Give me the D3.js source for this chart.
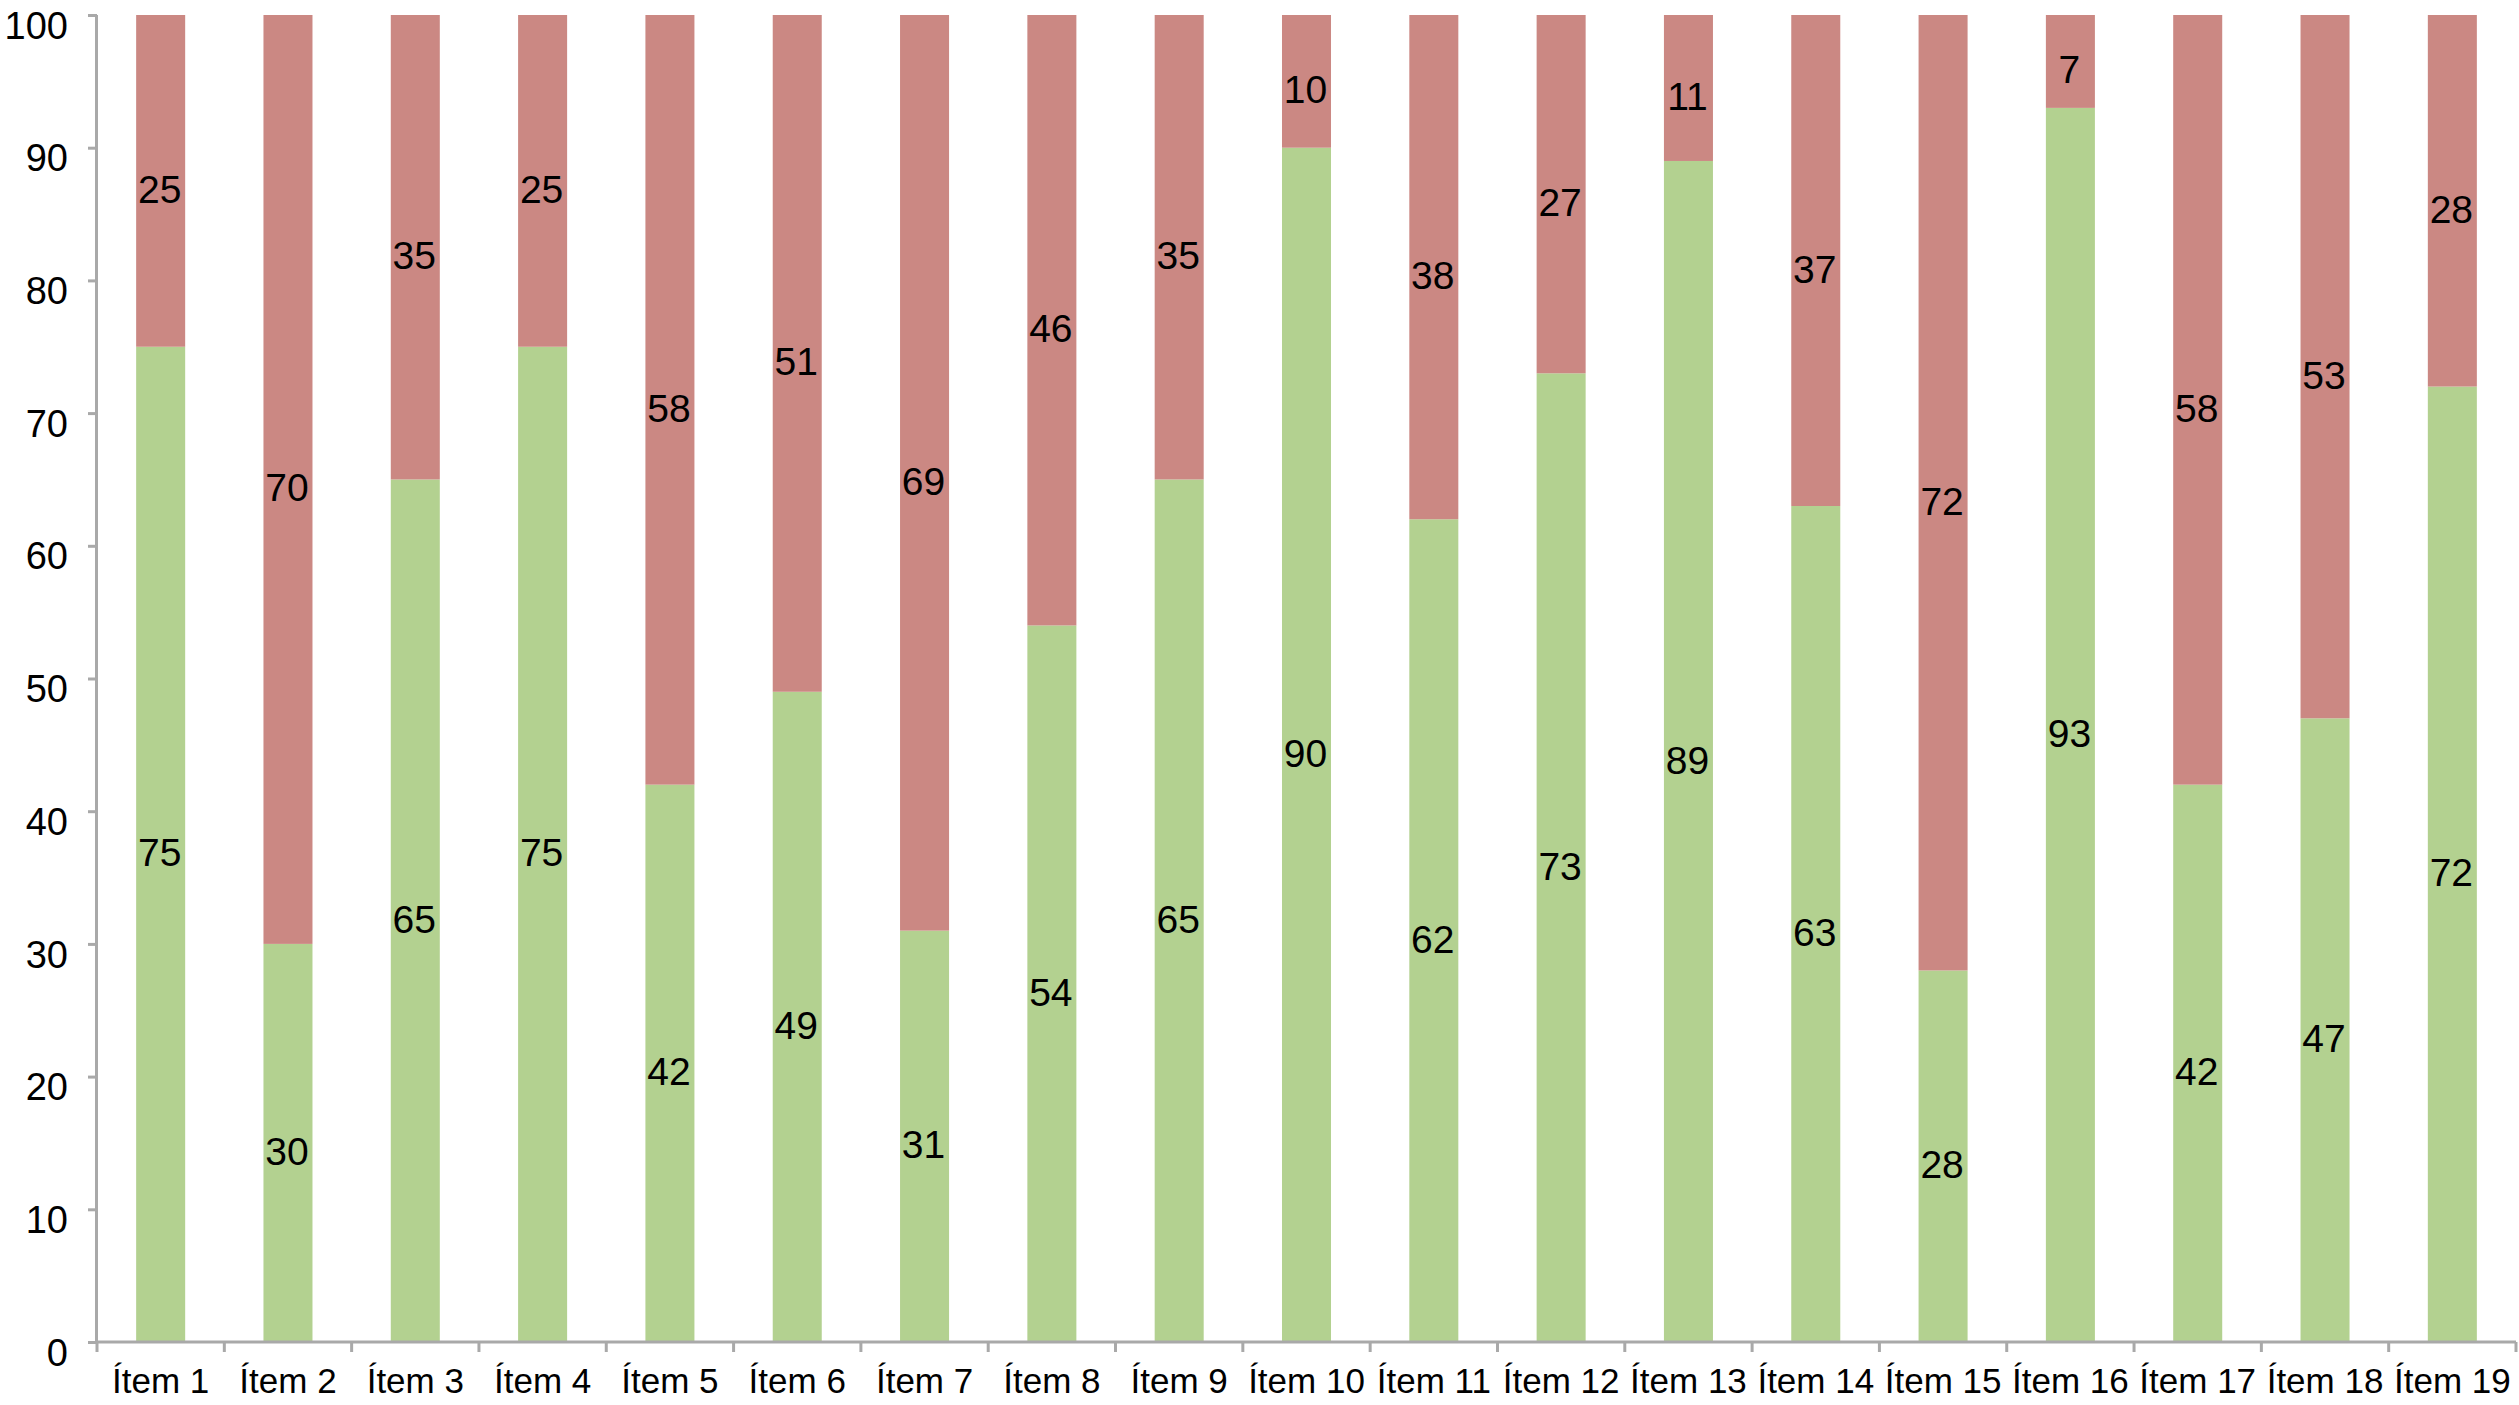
<!DOCTYPE html>
<html>
<head>
<meta charset="utf-8">
<script src="https://cdn.jsdelivr.net/npm/d3@7"></script>
<style>
  html, body { margin: 0; padding: 0; background: #fff; }
  svg { display: block; }
  text { font-family: "Liberation Sans", Arial, Helvetica, sans-serif; fill: #000; }
</style>
</head>
<body>
<svg id="chart"></svg>
<script>
const categories = ["Ítem 1","Ítem 2","Ítem 3","Ítem 4","Ítem 5","Ítem 6","Ítem 7","Ítem 8","Ítem 9","Ítem 10","Ítem 11","Ítem 12","Ítem 13","Ítem 14","Ítem 15","Ítem 16","Ítem 17","Ítem 18","Ítem 19"];
const greenValues = [75,30,65,75,42,49,31,54,65,90,62,73,89,63,28,93,42,47,72];
const redValues   = [25,70,35,25,58,51,69,46,35,10,38,27,11,37,72,7,58,53,28];
const yTicks = [0,10,20,30,40,50,60,70,80,90,100];

const W = 2519, H = 1405;
const margin = {left: 97, right: 3, top: 15, bottom: 63};
const svg = d3.select("#chart").attr("width", W).attr("height", H);

const x = d3.scaleBand().domain(categories).range([margin.left, W - margin.right]).padding(0);
const y = d3.scaleLinear().domain([0, 100]).range([H - margin.bottom, margin.top]);
const barW = x.bandwidth() * 0.385;

const series = [
  {name: "green", values: greenValues, color: "#b3d190"},
  {name: "red", values: redValues, color: "#cb8883"}
];

const stackData = categories.map((c, i) => {
  const g = greenValues[i], r = redValues[i];
  return [{cat: c, y0: 0, y1: g, v: g, color: series[0].color},
          {cat: c, y0: g, y1: g + r, v: r, color: series[1].color}];
}).flat();

const bars = svg.append("g");
bars.selectAll("rect").data(stackData).enter().append("rect")
  .attr("x", d => x(d.cat) + (x.bandwidth() - barW) / 2)
  .attr("width", barW)
  .attr("y", d => y(d.y1))
  .attr("height", d => y(d.y0) - y(d.y1))
  .attr("fill", d => d.color);

// Axes
const axisColor = "#a9a9a9";
const yAxis = svg.append("g").attr("transform", `translate(${margin.left},0)`)
  .call(d3.axisLeft(y).tickValues(yTicks).tickSize(9).tickPadding(20));
const xAxis = svg.append("g").attr("transform", `translate(0,${y(0)})`)
  .call(d3.axisBottom(x).tickSize(0).tickPadding(26));

[yAxis, xAxis].forEach(a => {
  a.select(".domain").attr("stroke", axisColor).attr("stroke-width", 3);
  a.selectAll(".tick line").attr("stroke", axisColor).attr("stroke-width", 3);
});
yAxis.select(".domain").attr("d", `M-0.5,${y(100)}V${y(0)}`);
xAxis.select(".domain").attr("d", `M${margin.left},0H${W - margin.right}`);
yAxis.selectAll(".tick text").attr("font-size", 38).attr("font-family", "Liberation Sans, Arial, sans-serif").attr("fill", "#000")
  .attr("y", 11);
xAxis.selectAll(".tick text").attr("font-size", 35).attr("font-family", "Liberation Sans, Arial, sans-serif").attr("fill", "#000")
  .attr("dy", "0.71em");

// x tick marks at band boundaries
const boundaries = categories.map(c => x(c)).concat([x(categories[categories.length - 1]) + x.bandwidth()]);
xAxis.selectAll(".bnd").data(boundaries).enter().append("line")
  .attr("class", "bnd")
  .attr("x1", d => d).attr("x2", d => d)
  .attr("y1", 0).attr("y2", 10)
  .attr("stroke", axisColor).attr("stroke-width", 3);

// Data labels
svg.append("g").selectAll("text").data(stackData).enter().append("text")
  .attr("x", d => x(d.cat) + x.bandwidth() / 2 - 1)
  .attr("y", d => y((d.y0 + d.y1) / 2) + 8)
  .attr("dy", "0.36em")
  .attr("text-anchor", "middle")
  .attr("font-size", 39)
  .text(d => d.v);
</script>
</body>
</html>
